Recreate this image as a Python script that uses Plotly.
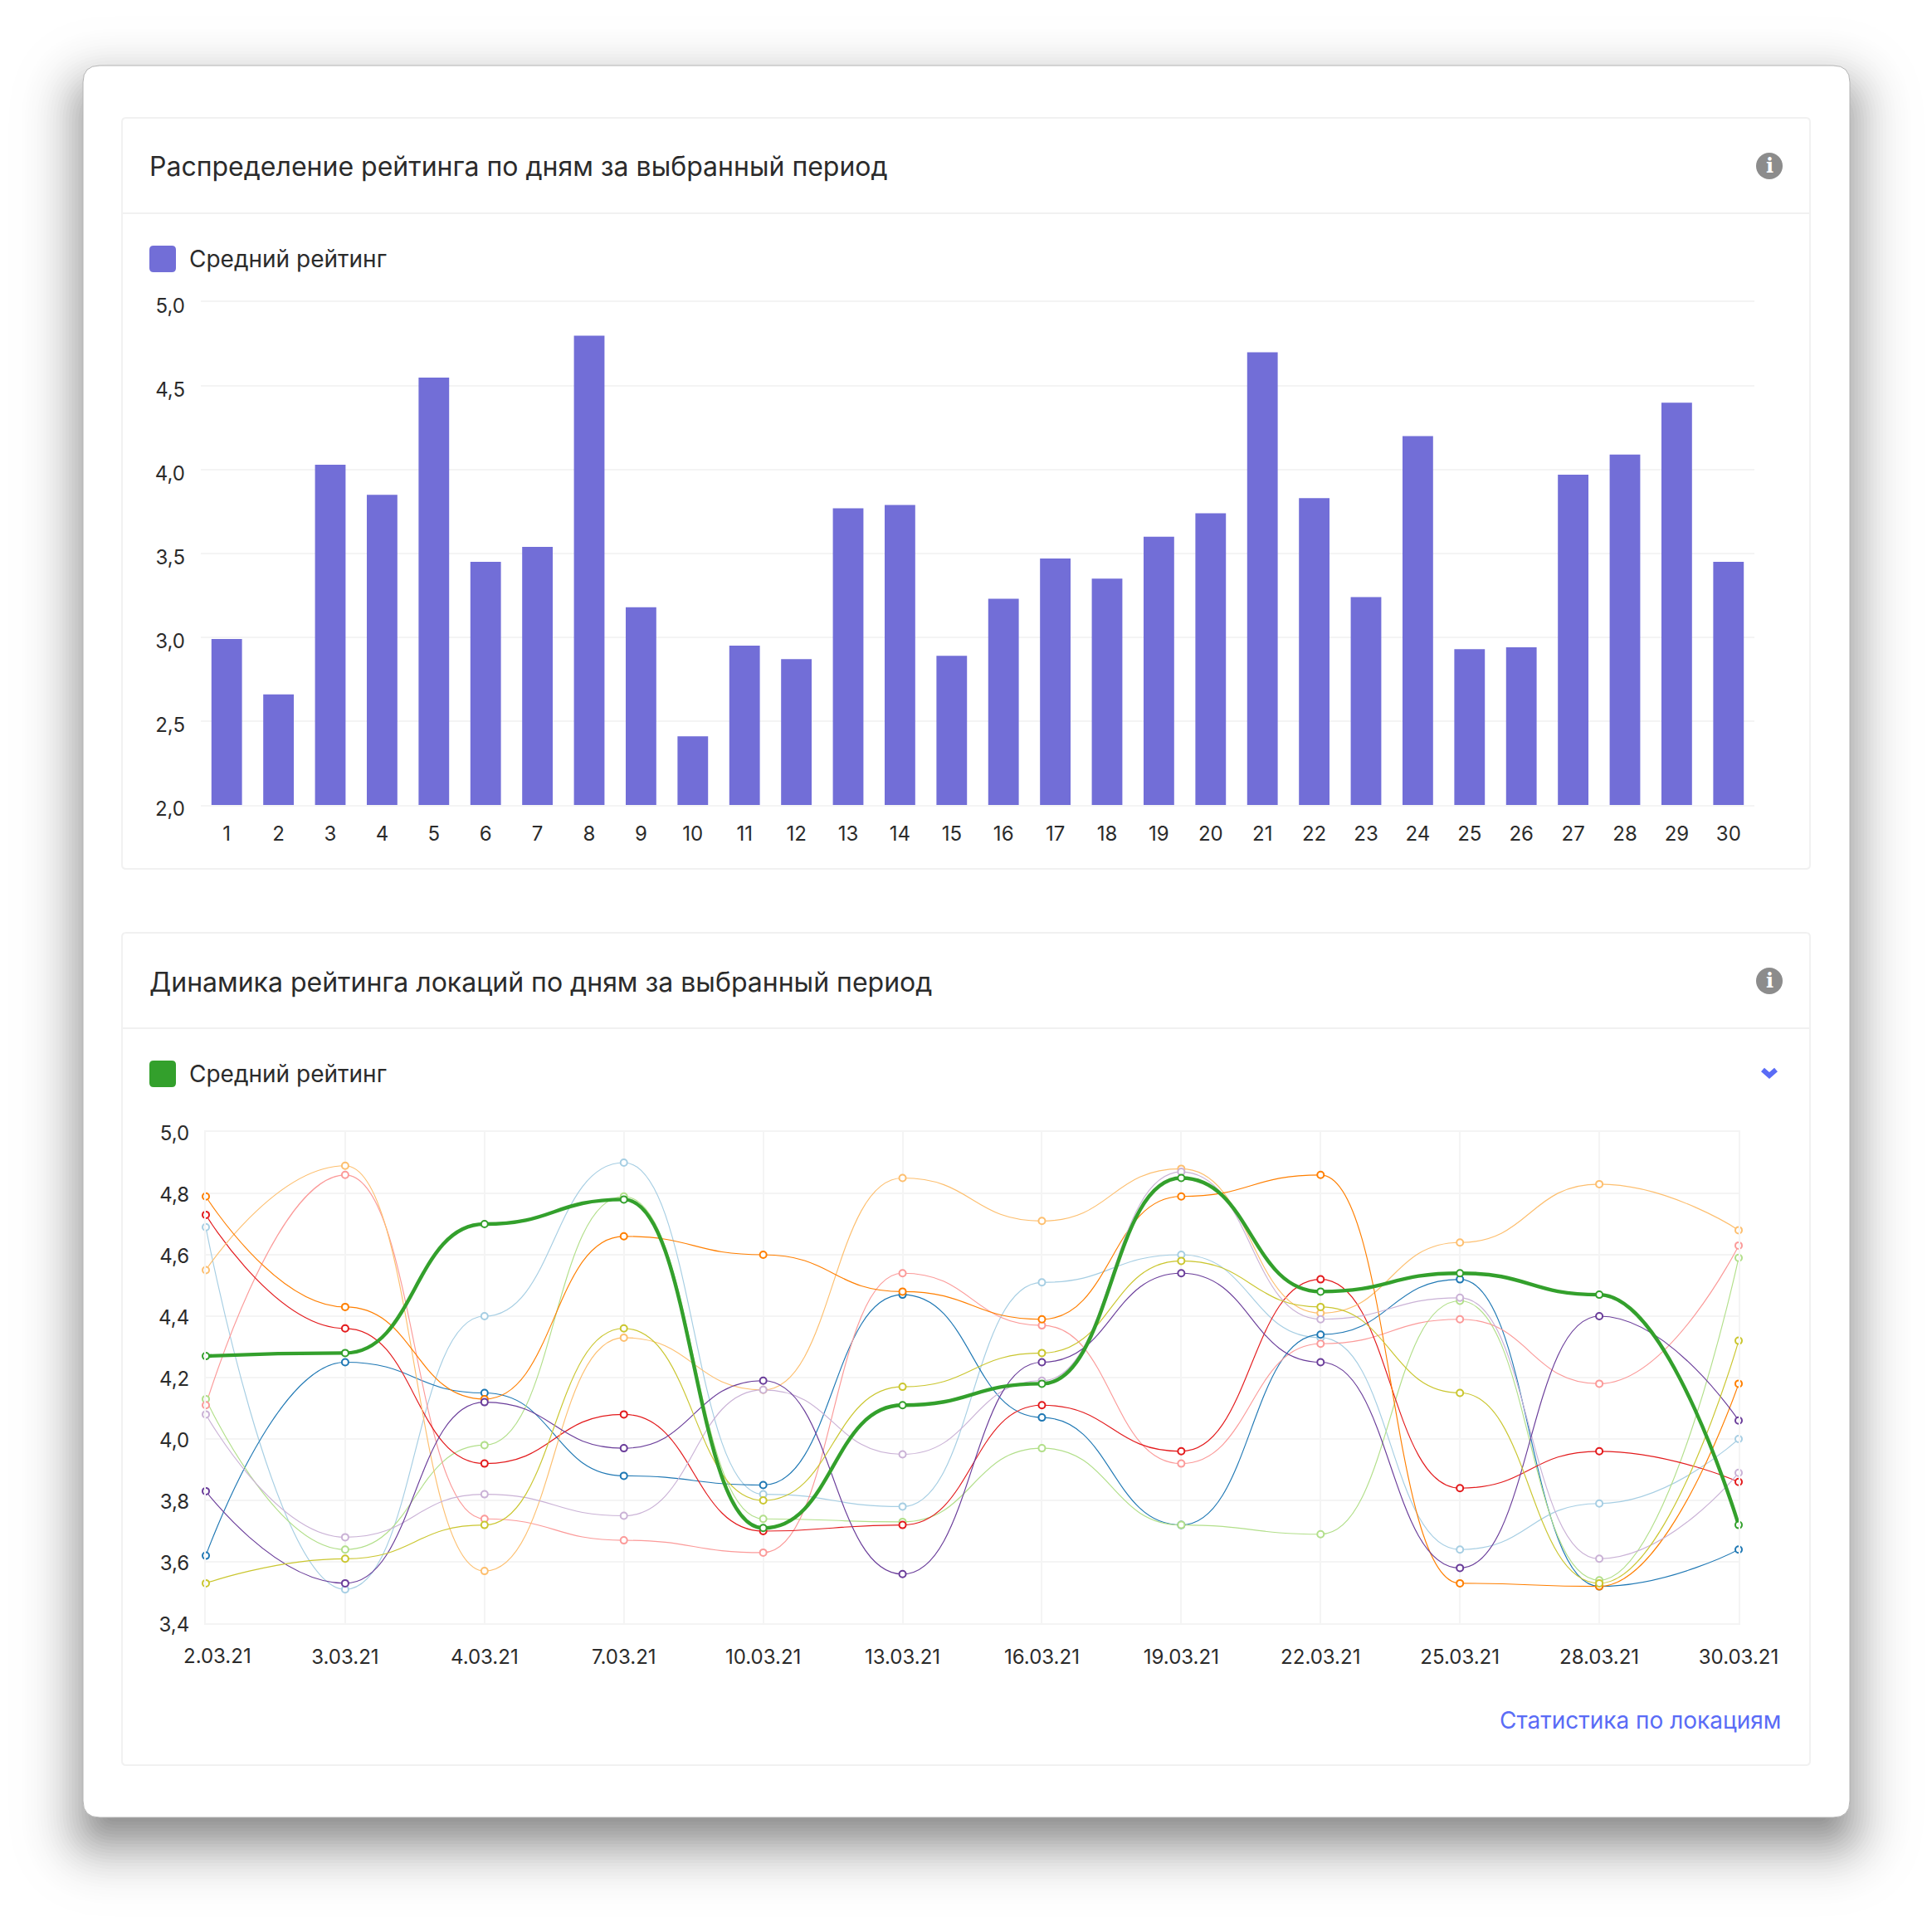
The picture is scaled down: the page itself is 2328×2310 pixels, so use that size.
import math
import plotly.graph_objects as go

# ---------- data ----------
days = list(range(1, 31))
avg_rating = [2.99, 2.66, 4.03, 3.85, 4.55, 3.45, 3.54, 4.80, 3.18, 2.41,
              2.95, 2.87, 3.77, 3.79, 2.89, 3.23, 3.47, 3.35, 3.60, 3.74,
              4.70, 3.83, 3.24, 4.20, 2.93, 2.94, 3.97, 4.09, 4.40, 3.45]
bar_y_ticks = [2.0, 2.5, 3.0, 3.5, 4.0, 4.5, 5.0]
bar_y_labels = ["2,0", "2,5", "3,0", "3,5", "4,0", "4,5", "5,0"]

dates = ["2.03.21", "3.03.21", "4.03.21", "7.03.21", "10.03.21", "13.03.21",
         "16.03.21", "19.03.21", "22.03.21", "25.03.21", "28.03.21", "30.03.21"]
line_y_ticks = [3.4, 3.6, 3.8, 4.0, 4.2, 4.4, 4.6, 4.8, 5.0]
line_y_labels = ["3,4", "3,6", "3,8", "4,0", "4,2", "4,4", "4,6", "4,8", "5,0"]

light_blue = [4.69, 3.51, 4.40, 4.90, 3.82, 3.78, 4.51, 4.60, 4.33, 3.64, 3.79, 4.00]
blue = [3.62, 4.25, 4.15, 3.88, 3.85, 4.47, 4.07, 3.72, 4.34, 4.52, 3.52, 3.64]
light_green = [4.13, 3.64, 3.98, 4.79, 3.74, 3.73, 3.97, 3.72, 3.69, 4.45, 3.54, 4.59]
pink = [4.11, 4.86, 3.74, 3.67, 3.63, 4.54, 4.37, 3.92, 4.31, 4.39, 4.18, 4.63]
red = [4.73, 4.36, 3.92, 4.08, 3.70, 3.72, 4.11, 3.96, 4.52, 3.84, 3.96, 3.86]
light_orange = [4.55, 4.89, 3.57, 4.33, 4.16, 4.85, 4.71, 4.88, 4.41, 4.64, 4.83, 4.68]
orange = [4.79, 4.43, 4.13, 4.66, 4.60, 4.48, 4.39, 4.79, 4.86, 3.53, 3.52, 4.18]
light_purple = [4.08, 3.68, 3.82, 3.75, 4.16, 3.95, 4.19, 4.87, 4.39, 4.46, 3.61, 3.89]
purple = [3.83, 3.53, 4.12, 3.97, 4.19, 3.56, 4.25, 4.54, 4.25, 3.58, 4.40, 4.06]
yellow = [3.53, 3.61, 3.72, 4.36, 3.80, 4.17, 4.28, 4.58, 4.43, 4.15, 3.53, 4.32]
green_avg = [4.27, 4.28, 4.70, 4.78, 3.71, 4.11, 4.18, 4.85, 4.48, 4.54, 4.47, 3.72]

series = [(light_blue, "#a6cee3"), (blue, "#1f78b4"), (light_green, "#b2df8a"),
          (pink, "#fb9a99"), (red, "#e31a1c"), (light_orange, "#fdbf6f"),
          (orange, "#ff7f00"), (light_purple, "#cab2d6"), (purple, "#6a3d9a"),
          (yellow, "#cac62f")]

TITLE_1 = "Распределение рейтинга по дням за выбранный период"
TITLE_2 = "Динамика рейтинга локаций по дням за выбранный период"
LEGEND = "Средний рейтинг"
LINK = "Статистика по локациям"

# ---------- layout helpers ----------
W, H = 2328, 2310
FONT = "Inter"
TEXT = "#2b2b2b"
GRID = "#f4f4f4"
BORDER = "#f1f1f1"
PURPLE = "#726ed7"
GREEN = "#33a02c"
LINKC = "#5a6cf6"


def fx(p):
    return p / W


def fy(p):
    return 1 - p / H


def rrect(x0, y0, x1, y1, r):
    Y0, Y1 = fy(y0), fy(y1)
    X0, X1 = fx(x0), fx(x1)
    rx, ry = r / W, r / H
    return (f"M{X0+rx},{Y0} L{X1-rx},{Y0} Q{X1},{Y0} {X1},{Y0-ry} L{X1},{Y1+ry} "
            f"Q{X1},{Y1} {X1-rx},{Y1} L{X0+rx},{Y1} Q{X0},{Y1} {X0},{Y1+ry} "
            f"L{X0},{Y0-ry} Q{X0},{Y0} {X0+rx},{Y0} Z")


shapes = []

# soft card shadow built from stacked translucent rounded rectangles
CARD = (100, 79, 2229, 2190)
SH_DY, SIGMA, SH_A = 30, 36, 0.50
n = 48
prev = 0.0
for k in range(n):
    e = 2.5 * SIGMA * (1 - 2 * k / (n - 1))
    z = e / SIGMA
    target = SH_A * 0.5 * (1 - math.erf(z / math.sqrt(2)))
    a = 1 - (1 - target) / (1 - prev) if prev < 1 else 0
    prev = target
    if a <= 0:
        continue
    shapes.append(dict(type="path", xref="paper", yref="paper", layer="below",
                       path=rrect(CARD[0] - e, CARD[1] + SH_DY - e, CARD[2] + e, CARD[3] + SH_DY + e,
                                  max(40 + e, 8)),
                       fillcolor=f"rgba(0,0,0,{a:.5f})", line=dict(width=0)))


def box(x0, y0, x1, y1, r, fill, line=None, lw=0):
    shapes.append(dict(type="path", xref="paper", yref="paper", layer="below",
                       path=rrect(x0, y0, x1, y1, r), fillcolor=fill,
                       line=dict(color=line or fill, width=lw)))


def hline(x0, x1, y, color=BORDER, w=2):
    shapes.append(dict(type="line", xref="paper", yref="paper", layer="below",
                       x0=fx(x0), x1=fx(x1), y0=fy(y), y1=fy(y), line=dict(color=color, width=w)))


box(*CARD, 20, "#ffffff", "#b4b4b4", 1)
box(147, 142, 2181, 1047, 5, "#ffffff", BORDER, 2)
box(147, 1124, 2181, 2127, 5, "#ffffff", BORDER, 2)
hline(147, 2181, 257)
hline(147, 2181, 1239)
box(180, 296, 212, 328, 5, PURPLE)
box(180, 1278, 212, 1310, 5, GREEN)
for cy in (200, 1182):
    shapes.append(dict(type="circle", xref="paper", yref="paper", layer="below",
                       x0=fx(2116), x1=fx(2148), y0=fy(cy - 16), y1=fy(cy + 16),
                       fillcolor="#8c8c8c", line=dict(width=0)))

# chevron in the second card's header
shapes.append(dict(type="path", xref="paper", yref="paper", layer="below",
                   path=f"M{fx(2124)},{fy(1289)} L{fx(2132)},{fy(1296)} L{fx(2140)},{fy(1289)}",
                   line=dict(color=LINKC, width=6)))


def text(x, y, s, size, color=TEXT, anchor="left", family=FONT, **kw):
    return dict(xref="paper", yref="paper", x=fx(x), y=fy(y), text=s, showarrow=False,
                xanchor=anchor, yanchor="middle", font=dict(family=family, size=size, color=color), **kw)


annotations = [
    text(178, 201, TITLE_1, 32),
    text(178, 1183, TITLE_2, 32),
    text(226, 312, LEGEND, 28),
    text(226, 1294, LEGEND, 28),
    text(2148, 2073, LINK, 28, LINKC, "right"),
    text(2132, 200, "<b>i</b>", 24, "#ffffff", "center", "DejaVu Serif"),
    text(2132, 1182, "<b>i</b>", 24, "#ffffff", "center", "DejaVu Serif"),
    # first date label is nudged right so that it does not stick out of the card's grid
    dict(xref="x2", yref="paper", x=0, y=fy(1995), text=dates[0], showarrow=False, xanchor="center",
         yanchor="middle", xshift=14, font=dict(family=FONT, size=24, color=TEXT)),
]

fig = go.Figure()

# ---------- bars ----------
fig.add_trace(go.Bar(x=days, y=[v - 2 for v in avg_rating], base=2, marker=dict(color=PURPLE, line=dict(width=0)),
                     width=0.59, xaxis="x", yaxis="y", showlegend=False))


# ---------- lines: bezier paths on the chart's own axes, flat at every inner value ----------
def curve(vals):
    last = len(vals) - 1
    d = f"M0,{vals[0]}"
    for i in range(last):
        m = i + 0.5
        c1 = (i, vals[i]) if i == 0 else (m, vals[i])
        c2 = (i + 1, vals[i + 1]) if i + 1 == last else (m, vals[i + 1])
        d += f" C{c1[0]},{c1[1]} {c2[0]},{c2[1]} {i + 1},{vals[i + 1]}"
    return d


all_series = series + [(green_avg, GREEN)]
for vals, col in all_series:
    shapes.append(dict(type="path", xref="x2", yref="y2", layer="between", path=curve(vals),
                       line=dict(color=col, width=4.4 if col == GREEN else 1.15)))
for vals, col in all_series:
    fig.add_trace(go.Scatter(x=list(range(len(vals))), y=vals, mode="markers", xaxis="x2", yaxis="y2",
                             showlegend=False, cliponaxis=False,
                             marker=dict(size=8, color="#ffffff", line=dict(color=col, width=2))))

axfont = dict(family=FONT, size=24, color=TEXT)
fig.update_layout(
    width=W, height=H, margin=dict(l=0, r=0, t=0, b=0, pad=0), paper_bgcolor="#ffffff", plot_bgcolor="rgba(0,0,0,0)",
    shapes=shapes, annotations=annotations, bargap=0.41, showlegend=False, font=dict(family=FONT),
    xaxis=dict(domain=[fx(242), fx(2114)], anchor="y", range=[0.5, 30.5], tickvals=days, ticktext=[str(d) for d in days],
               showgrid=False, zeroline=False, showline=True, mirror=True, linecolor=GRID, linewidth=2, ticks="",
               tickfont=axfont, ticklabelstandoff=12, automargin=False),
    yaxis=dict(domain=[fy(970), fy(364)], anchor="x", range=[2, 5], tickvals=bar_y_ticks, ticktext=bar_y_labels,
               gridcolor=GRID, gridwidth=2, zeroline=False, showline=False, ticks="", tickfont=axfont,
               ticklabelstandoff=18, ticklabelshift=5, automargin=False),
    xaxis2=dict(domain=[fx(248), fx(2095)], anchor="y2", range=[0, 11], tickvals=list(range(12)),
                ticktext=[""] + dates[1:], gridcolor=GRID, gridwidth=2, zeroline=False, showline=True, mirror=True,
                linecolor=GRID, linewidth=2, ticks="", tickfont=axfont, ticklabelstandoff=18, automargin=False),
    yaxis2=dict(domain=[fy(1956), fy(1364)], anchor="x2", range=[3.4, 5], tickvals=line_y_ticks, ticktext=line_y_labels,
                gridcolor=GRID, gridwidth=2, zeroline=False, showline=True, mirror=True, linecolor=GRID, linewidth=2,
                ticks="", tickfont=axfont, ticklabelstandoff=13, ticklabelshift=2, automargin=False),
)

fig.write_html("out.html", config=dict(displayModeBar=False),
               post_script="document.body.style.margin='0';document.documentElement.style.overflow='hidden';")
